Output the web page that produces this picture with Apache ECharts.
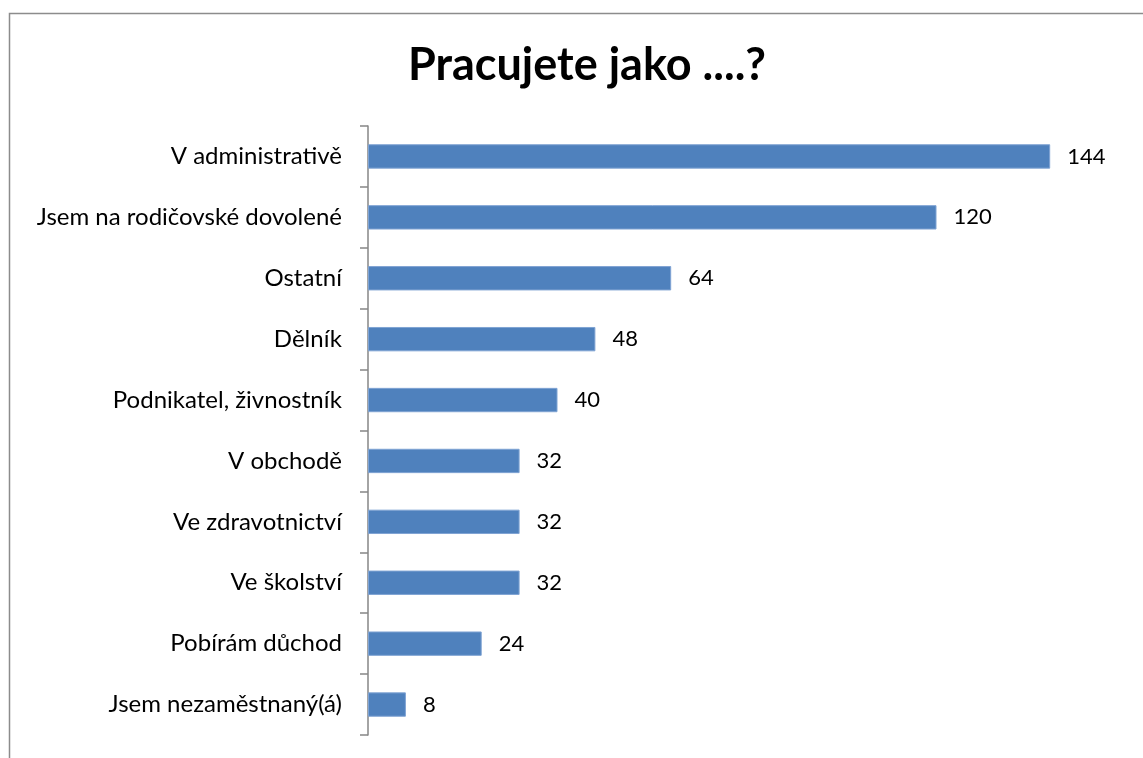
<!DOCTYPE html>
<html><head><meta charset="utf-8">
<script src="https://cdn.jsdelivr.net/npm/echarts@6/dist/echarts.min.js"></script>
<style>html,body{margin:0;padding:0;background:#fff}#c{width:1143px;height:758px}</style>
</head><body><div id="c"></div>
<script>
const categories = ["V administrativě","Jsem na rodičovské dovolené","Ostatní","Dělník","Podnikatel, živnostník","V obchodě","Ve zdravotnictví","Ve školství","Pobírám důchod","Jsem nezaměstnaný(á)"];
const values = [144,120,64,48,40,32,32,32,24,8];
const titleText = "Pracujete jako ....?";
const FONT = "Lato, 'Open Sans', sans-serif";
const chart = echarts.init(document.getElementById('c'));
chart.setOption({
  animation:false,
  backgroundColor:'#fff',
  title:{text:titleText,left:582,textAlign:'center',top:38,textStyle:{fontFamily:FONT,fontSize:45,fontWeight:'bold',color:'#000'}},
  graphic:[{type:'rect',shape:{x:9.5,y:13.5,width:1150,height:800},style:{fill:'none',stroke:'#8c8c8c',lineWidth:1.5},silent:true}],
  grid:{left:368,right:17,top:126,bottom:23,containLabel:false},
  xAxis:{type:'value',min:0,max:160,show:false,splitLine:{show:false}},
  yAxis:{type:'category',data:categories,inverse:true,
    axisLine:{show:true,lineStyle:{color:'#868686',width:1.5}},
    axisTick:{show:true,length:8,lineStyle:{color:'#868686',width:1.5}},
    axisLabel:{margin:26,fontFamily:FONT,fontSize:24,color:'#000'}},
  series:[{type:'bar',data:values,barCategoryGap:'60%',
    itemStyle:{color:'#4F81BD',borderColor:'#7FA3D3',borderWidth:1},
    label:{show:true,position:'right',distance:17,fontFamily:FONT,fontSize:22,color:'#000'}}]
});
</script></body></html>
